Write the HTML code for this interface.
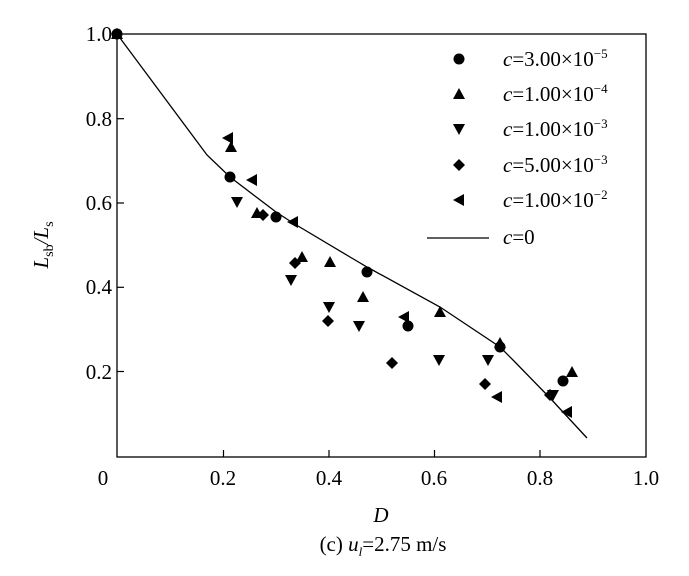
<!DOCTYPE html>
<html><head><style>body{margin:0;background:#fff}svg{display:block}text{font-family:"Liberation Serif","Times New Roman","DejaVu Serif",serif}</style></head><body>
<svg width="689" height="576" xmlns="http://www.w3.org/2000/svg" fill="#000">
<defs>
<circle id="c" r="5.5"/>
<path id="u" d="M0,-6 L6,5 L-6,5Z"/>
<path id="d" d="M0,6 L6,-5 L-6,-5Z"/>
<path id="m" d="M0,-6 L6,0 L0,6 L-6,0Z"/>
<path id="l" d="M-6,0 L5,-6 L5,6Z"/>
</defs>
<rect x="117" y="34" width="529" height="423" fill="none" stroke="#000" stroke-width="1.3"/>
<g stroke="#000" stroke-width="1.2">
<line x1="223.5" y1="457" x2="223.5" y2="450"/><line x1="329" y1="457" x2="329" y2="450"/><line x1="434.5" y1="457" x2="434.5" y2="450"/><line x1="540" y1="457" x2="540" y2="450"/>
<line x1="117" y1="118.7" x2="124" y2="118.7"/><line x1="117" y1="203" x2="124" y2="203"/><line x1="117" y1="287.3" x2="124" y2="287.3"/><line x1="117" y1="371.5" x2="124" y2="371.5"/>
</g>
<g font-size="21" text-anchor="end">
<text x="112" y="41">1.0</text><text x="112" y="126">0.8</text><text x="112" y="210">0.6</text><text x="112" y="294">0.4</text><text x="112" y="379">0.2</text>
</g>
<g font-size="21" text-anchor="middle">
<text x="103" y="485">0</text><text x="223" y="485">0.2</text><text x="329" y="485">0.4</text><text x="434" y="485">0.6</text><text x="540" y="485">0.8</text><text x="646" y="485">1.0</text>
<text x="381" y="522" font-style="italic">D</text>
<text x="383" y="551">(c) <tspan font-style="italic">u</tspan><tspan font-style="italic" font-size="13" dy="5">l</tspan><tspan dy="-5">=2.75 m/s</tspan></text>
</g>
<text transform="translate(48,245) rotate(-90)" font-size="21" text-anchor="middle"><tspan font-style="italic">L</tspan><tspan font-size="14" dy="5">sb</tspan><tspan dy="-5" font-style="italic">/L</tspan><tspan font-size="14" dy="5">s</tspan></text>
<polyline fill="none" stroke="#000" stroke-width="1.3" points="117,34 207,155 230,177 276,212 293,223 350,257 367,267 440,307 500,347 513,360 550,398 587,438"/>
<g>
<use href="#c" x="117" y="34"/><use href="#c" x="230" y="177"/><use href="#c" x="276" y="217"/><use href="#c" x="367" y="272"/><use href="#c" x="408" y="326"/><use href="#c" x="500" y="347"/><use href="#c" x="563" y="381"/>
<use href="#u" x="117" y="34"/><use href="#u" x="231" y="147"/><use href="#u" x="257" y="213"/><use href="#u" x="302" y="257"/><use href="#u" x="330" y="262"/><use href="#u" x="363" y="297"/><use href="#u" x="440" y="312"/><use href="#u" x="500" y="343"/><use href="#u" x="572" y="372"/>
<use href="#d" x="237" y="202"/><use href="#d" x="291" y="280"/><use href="#d" x="329" y="307"/><use href="#d" x="359" y="326"/><use href="#d" x="439" y="360"/><use href="#d" x="488" y="360"/><use href="#d" x="553" y="395"/>
<use href="#m" x="117" y="34"/><use href="#m" x="263" y="215"/><use href="#m" x="295" y="263"/><use href="#m" x="328" y="321"/><use href="#m" x="392" y="363"/><use href="#m" x="485" y="384"/><use href="#m" x="550" y="395"/>
<use href="#l" x="228" y="138"/><use href="#l" x="252" y="180"/><use href="#l" x="293" y="222"/><use href="#l" x="404" y="317"/><use href="#l" x="497" y="397"/><use href="#l" x="567" y="412"/>
</g>
<use href="#c" x="459" y="59"/><use href="#u" x="459" y="94"/><use href="#d" x="459" y="129"/><use href="#m" x="459" y="165"/><use href="#l" x="459" y="200"/>
<line x1="427" y1="238" x2="489" y2="238" stroke="#000" stroke-width="1.3"/>
<g font-size="21">
<text x="503" y="66"><tspan font-style="italic">c</tspan>=3.00×10<tspan font-size="13" dy="-8">−5</tspan></text>
<text x="503" y="101"><tspan font-style="italic">c</tspan>=1.00×10<tspan font-size="13" dy="-8">−4</tspan></text>
<text x="503" y="136"><tspan font-style="italic">c</tspan>=1.00×10<tspan font-size="13" dy="-8">−3</tspan></text>
<text x="503" y="172"><tspan font-style="italic">c</tspan>=5.00×10<tspan font-size="13" dy="-8">−3</tspan></text>
<text x="503" y="207"><tspan font-style="italic">c</tspan>=1.00×10<tspan font-size="13" dy="-8">−2</tspan></text>
<text x="503" y="244"><tspan font-style="italic">c</tspan>=0</text>
</g>
</svg>
</body></html>
